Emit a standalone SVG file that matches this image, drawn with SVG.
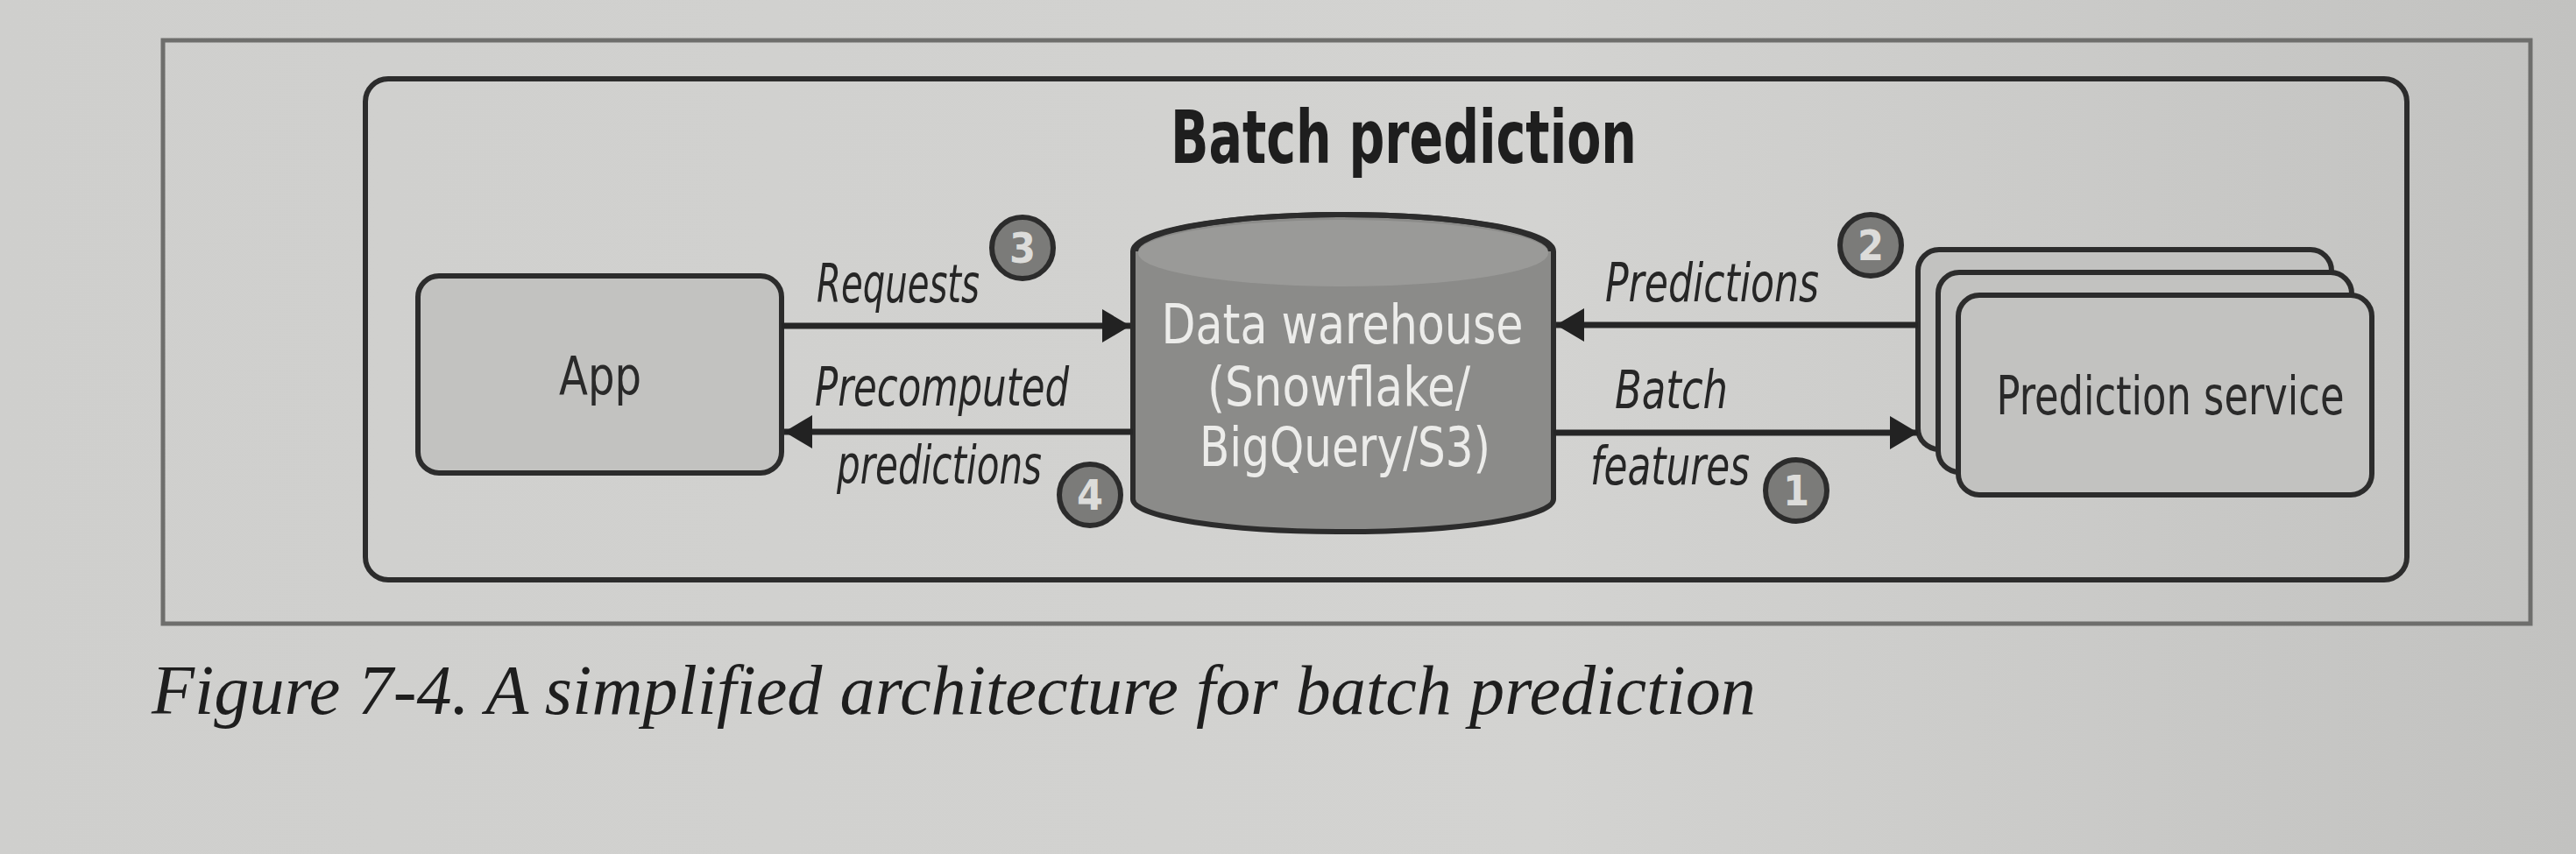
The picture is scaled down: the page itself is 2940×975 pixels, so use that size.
<svg xmlns="http://www.w3.org/2000/svg" width="2940" height="975" viewBox="0 0 2940 975">
<defs>
<linearGradient id="bg" x1="0" y1="0" x2="1" y2="0">
<stop offset="0" stop-color="#cfcfcd"/>
<stop offset="0.6" stop-color="#d3d3d1"/>
<stop offset="1" stop-color="#c2c2c0"/>
</linearGradient>
<marker id="ah" viewBox="0 0 32 38" refX="32" refY="19" markerWidth="32" markerHeight="38" markerUnits="userSpaceOnUse" orient="auto">
<path d="M0,0 L32,19 L0,38 Z" fill="#222"/>
</marker>
<style>
.lbl{font-family:"Liberation Sans Narrow","DejaVu Sans Condensed","Liberation Sans",sans-serif;font-style:italic;font-size:60px;fill:#262626}
.node{font-family:"Liberation Sans Narrow","DejaVu Sans Condensed","Liberation Sans",sans-serif;font-size:60px;fill:#2a2a2a;text-anchor:middle}
.dw{font-family:"Liberation Sans Narrow","DejaVu Sans Condensed","Liberation Sans",sans-serif;font-size:62px;fill:#ececea;text-anchor:middle}
.badge circle{fill:#7b7b79;stroke:#2c2c2c;stroke-width:6}
.badge text{font-family:"Liberation Sans Narrow","DejaVu Sans Condensed","Liberation Sans",sans-serif;font-size:48px;font-weight:bold;fill:#dcdcda;text-anchor:middle}
.box{fill:#c2c2c0;stroke:#2c2c2c;stroke-width:6}
.conn{stroke:#262626;stroke-width:7;fill:none}
</style>
</defs>
<rect x="0" y="0" width="2940" height="975" fill="url(#bg)"/>
<g id="outer-frame">
<rect x="186" y="46" width="2702" height="666" fill="none" stroke="#6e6e6c" stroke-width="5"/>
</g>
<g id="batch-prediction">
<rect x="417" y="90" width="2330" height="572" rx="26" fill="none" stroke="#2c2c2c" stroke-width="6"/>
<text x="1336" y="186" font-family="Liberation Sans Narrow,DejaVu Sans Condensed,Liberation Sans,sans-serif" font-size="84" font-weight="bold" fill="#1e1e1e" textLength="532" lengthAdjust="spacingAndGlyphs">Batch prediction</text>
</g>
<g id="app">
<rect class="box" x="477" y="315" width="415" height="225" rx="24"/>
<text class="node" x="685" y="450" textLength="94" lengthAdjust="spacingAndGlyphs">App</text>
</g>
<g id="data-warehouse">
<path d="M1293,287 A240,42 0 0 1 1773,287 L1773,570 A240,37 0 0 1 1293,570 Z" fill="#8b8b89" stroke="#2c2c2c" stroke-width="6"/>
<ellipse cx="1533" cy="289" rx="234" ry="38" fill="#9a9a98"/>
<path d="M1296,287 A237,42 0 0 1 1770,287" fill="none" stroke="#2c2c2c" stroke-width="6"/>
<text class="dw" x="1532" y="392" textLength="413" lengthAdjust="spacingAndGlyphs">Data warehouse</text>
<text class="dw" x="1528" y="463" textLength="300" lengthAdjust="spacingAndGlyphs">(Snowflake/</text>
<text class="dw" x="1535" y="532" textLength="332" lengthAdjust="spacingAndGlyphs">BigQuery/S3)</text>
</g>
<g id="prediction-service">
<rect class="box" x="2189" y="285" width="472" height="228" rx="24"/>
<rect class="box" x="2212" y="311" width="472" height="228" rx="24"/>
<rect class="box" x="2235" y="337" width="472" height="228" rx="24"/>
<text class="node" x="2477" y="473" textLength="397" lengthAdjust="spacingAndGlyphs">Prediction service</text>
</g>
<g id="connectors">
<line class="conn" x1="892" y1="372" x2="1290" y2="372" marker-end="url(#ah)"/>
<line class="conn" x1="1293" y1="493" x2="895" y2="493" marker-end="url(#ah)"/>
<line class="conn" x1="2189" y1="371" x2="1776" y2="371" marker-end="url(#ah)"/>
<line class="conn" x1="1773" y1="494" x2="2189" y2="494" marker-end="url(#ah)"/>
<text class="lbl" x="932" y="345" textLength="186" lengthAdjust="spacingAndGlyphs">Requests</text>
<text class="lbl" x="930" y="463" textLength="290" lengthAdjust="spacingAndGlyphs">Precomputed</text>
<text class="lbl" x="955" y="552" textLength="234" lengthAdjust="spacingAndGlyphs">predictions</text>
<text class="lbl" x="1832" y="344" textLength="244" lengthAdjust="spacingAndGlyphs">Predictions</text>
<text class="lbl" x="1843" y="466" textLength="129" lengthAdjust="spacingAndGlyphs">Batch</text>
<text class="lbl" x="1815" y="553" textLength="182" lengthAdjust="spacingAndGlyphs">features</text>
</g>
<g id="badge-1" class="badge"><circle cx="2050" cy="560" r="35"/><text x="2050" y="577">1</text></g>
<g id="badge-2" class="badge"><circle cx="2135" cy="280" r="35"/><text x="2135" y="297">2</text></g>
<g id="badge-3" class="badge"><circle cx="1167" cy="283" r="35"/><text x="1167" y="300">3</text></g>
<g id="badge-4" class="badge"><circle cx="1244" cy="565" r="35"/><text x="1244" y="582">4</text></g>
<g id="caption">
<text x="173" y="815" font-family="Liberation Serif,serif" font-style="italic" font-size="80" fill="#1e1e1e" textLength="1831" lengthAdjust="spacingAndGlyphs">Figure 7-4. A simplified architecture for batch prediction</text>
</g>
</svg>
